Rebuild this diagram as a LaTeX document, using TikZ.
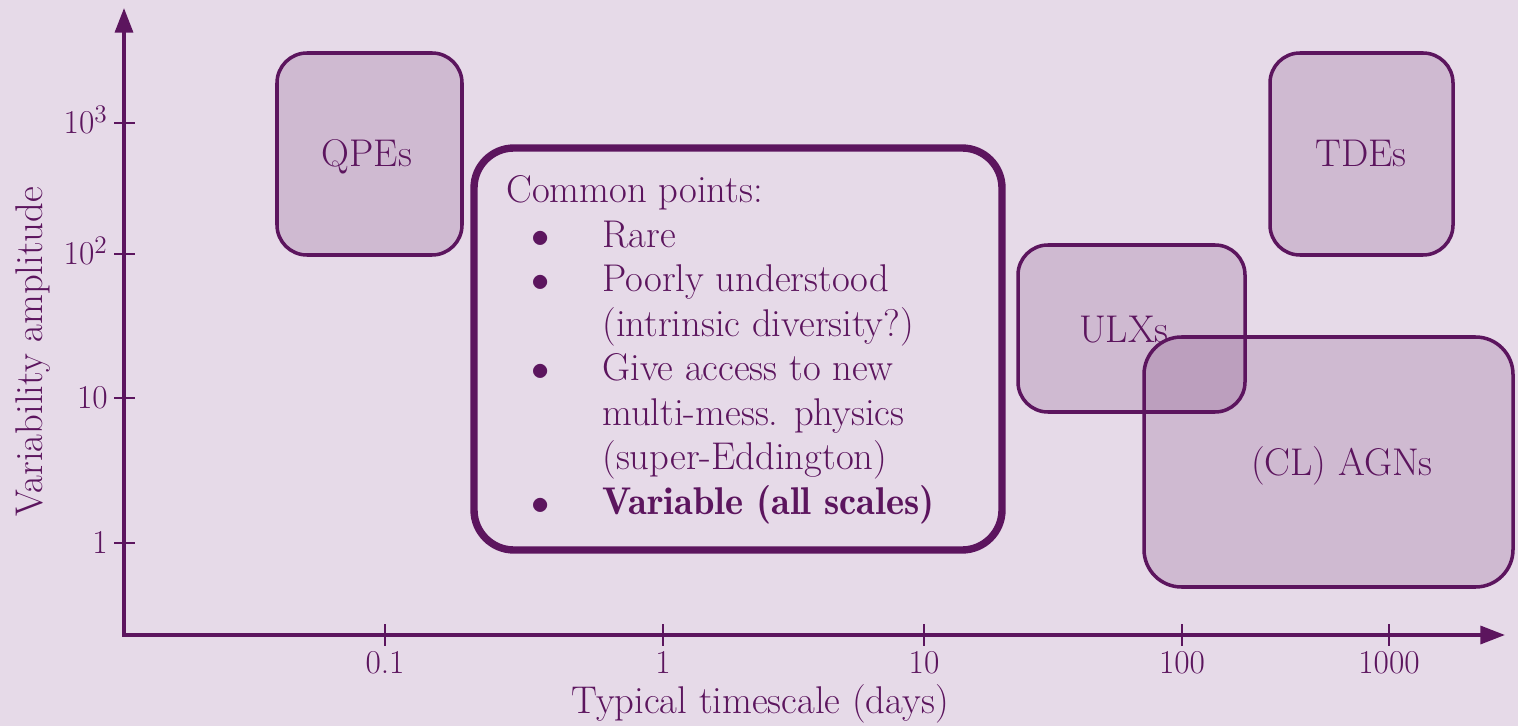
\documentclass[tikz,border=0pt]{standalone}
\usetikzlibrary{arrows.meta}
\definecolor{plum}{RGB}{92,21,94}
\definecolor{lilac}{RGB}{230,218,232}
\newlength\px \setlength\px{0.02cm}
% bullet item: indent, bullet, then text column; continuation lines align with the text
\newcommand\itm{\hspace*{5.06mm}\makebox[14.14mm][l]{$\bullet$}}
\newcommand\cnt{\hspace*{19.2mm}}
\tikzset{axtip/.tip={Triangle[length=14pt,width=10.2pt]}}
\begin{document}
\begin{tikzpicture}[x=0.02cm,y=-0.02cm,
  every node/.style={text=plum},
  axis/.style={draw=plum, line width=2pt, line join=miter},
  tickmark/.style={draw=plum, line width=1.4pt},
  ticklbl/.style={inner sep=0, font=\fontsize{19}{22}\selectfont},
  bigtxt/.style={inner sep=0, font=\fontsize{22}{25.3}\selectfont},
  evbox/.style={draw=plum, line width=2pt, fill=plum, fill opacity=0.16,
    draw opacity=1, inner sep=0, rectangle, rounded corners=0.6cm},
  keybox/.style={draw=plum, line width=4.2pt, inner sep=0, rectangle, rounded corners=0.8cm}]

% canvas
\fill[lilac] (0,0) rectangle (1518,726);
\useasboundingbox (0,0) rectangle (1518,726);

% axes
\coordinate (O) at (124,635);
\coordinate (ytop) at (124,8);
\coordinate (xend) at (1505,635);
\draw[axis, axtip-axtip] (ytop) -- (O) -- (xend);

% y ticks
\foreach \yy/\lab in {123/{10$^3$}, 254/{10$^2$}, 398/{10}, 543/{1}} {
  \draw[tickmark] (114,\yy) -- (135,\yy);
  \node[ticklbl, anchor=base east] at (108,\yy+10.8) {\lab};
}
% x ticks
\foreach \xx/\lab in {385/{0.1}, 663/{1}, 924/{10}, 1182/{100}, 1389/{1000}} {
  \draw[tickmark] (\xx,624) -- (\xx,646);
  \node[ticklbl, anchor=base] at (\xx,673) {\lab};
}

% axis titles
\node[bigtxt, anchor=base] (xlab) at (760,713) {Typical timescale (days)};
\node[bigtxt, anchor=base, rotate=90] (ylab) at (42,352) {Variability amplitude};

% source classes
\node[evbox, minimum width=185\px, minimum height=202\px] (qpe) at (369.5,154) {};
\node[bigtxt, anchor=base] (qpetxt) at (367,167) {QPEs};

\node[evbox, minimum width=183\px, minimum height=202\px] (tde) at (1361.5,154) {};
\node[bigtxt, anchor=base] (tdetxt) at (1361,167) {TDEs};

\node[evbox, minimum width=227\px, minimum height=167\px] (ulx) at (1131.5,328.5) {};
\node[bigtxt, anchor=base] (ulxtxt) at (1124,342) {ULXs};

\node[evbox, minimum width=369\px, minimum height=250\px, rounded corners=0.75cm] (agn) at (1328.5,462) {};
\node[bigtxt, anchor=base] (agntxt) at (1342,475) {(CL) AGNs};

% common properties
\node[keybox, minimum width=528\px, minimum height=402\px] (common) at (738,349) {};
\node[bigtxt, anchor=base west] (pts) at (506,203) {%
  \begin{tabular}[t]{@{}l@{}}
  Common points:\\
  \itm Rare\\
  \itm Poorly understood\\
  \cnt (intrinsic diversity?)\\
  \itm Give access to new\\
  \cnt multi-mess. physics\\
  \cnt (super-Eddington)\\
  \itm {\fontseries{b}\selectfont Variable (all scales)}
  \end{tabular}};
\end{tikzpicture}
\end{document}
